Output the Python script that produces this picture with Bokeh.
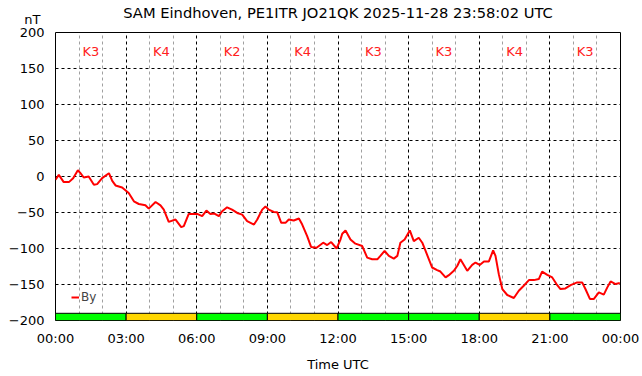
from bokeh.plotting import figure
from bokeh.models import FixedTicker, ColumnDataSource, LinearAxis
from bokeh.core.properties import value
from bokeh.embed import file_html
from bokeh.resources import INLINE

title_text = "SAM Eindhoven, PE1ITR JO21QK 2025-11-28 23:58:02 UTC"
unit_text = "nT"

hours = [0.00, 0.14, 0.35, 0.57, 0.75, 0.95, 1.06, 1.20, 1.41, 1.63, 1.77, 1.98,
         2.27, 2.41, 2.55, 2.83, 3.11, 3.33, 3.54, 3.82, 3.96, 4.25, 4.46, 4.60,
         4.81, 5.10, 5.34, 5.45, 5.66, 6.02, 6.23, 6.41, 6.58, 6.75, 6.94, 7.08,
         7.29, 7.50, 7.72, 7.93, 8.14, 8.43, 8.57, 8.78, 8.92, 9.06, 9.27, 9.42,
         9.59, 9.77, 9.91, 10.12, 10.34, 10.48, 10.69, 10.86, 11.09, 11.37, 11.54,
         11.71, 11.94, 12.10, 12.18, 12.32, 12.53, 12.74, 13.03, 13.24, 13.45,
         13.67, 13.80, 13.98, 14.16, 14.37, 14.52, 14.65, 14.83, 15.05, 15.22,
         15.43, 15.58, 15.72, 16.00, 16.21, 16.35, 16.57, 16.71, 16.92, 17.07,
         17.20, 17.49, 17.70, 17.84, 18.02, 18.20, 18.41, 18.59, 18.69, 18.83,
         18.98, 19.19, 19.47, 19.68, 19.89, 20.11, 20.32, 20.53, 20.67, 20.89,
         21.10, 21.28, 21.45, 21.66, 21.88, 22.16, 22.37, 22.51, 22.70, 22.87,
         23.08, 23.29, 23.44, 23.58, 23.79, 23.97]
by_values = [-4.6, 2.3, -7.8, -7.8, -2.3, 8.7, 4.6, -1.4, 0.0, -11.5, -10.6, -2.3,
             4.6, -6.0, -12.4, -15.2, -23.0, -34.5, -38.2, -40.0, -44.6, -35.4, -40.0, -46.0,
             -63.0, -59.8, -70.3, -69.0, -52.0, -52.0, -55.0, -47.4, -52.0, -51.5, -55.0, -48.3,
             -42.8, -46.0, -50.6, -52.9, -62.0, -66.7, -59.8, -46.0, -41.8, -46.0, -49.2, -49.7,
             -64.4, -64.4, -59.8, -61.1, -58.4, -66.7, -82.8, -98.0, -98.9, -92.0, -95.2,
             -91.0, -100.0, -88.0, -79.6, -74.9, -87.4, -93.3, -96.6, -112.6, -115.0,
             -115.0, -110.3, -103.4, -110.3, -114.0, -110.3, -92.0, -87.4, -74.9, -89.7,
             -85.1, -92.0, -103.4, -126.4, -130.0, -132.0, -140.2, -137.0, -131.0, -124.0,
             -115.0, -131.0, -122.8, -119.5, -122.8, -118.0, -118.0, -102.5, -110.3, -135.6,
             -156.3, -164.6, -168.7, -158.6, -151.7, -143.9, -143.9, -142.5, -132.0, -136.6,
             -140.2, -149.4, -156.3, -155.4, -150.8, -147.1, -147.1, -156.3, -170.0, -170.0,
             -161.0, -164.0, -154.0, -145.8, -149.4, -148.0]

k_start = [0, 3, 6, 9, 12, 15, 18, 21]
k_index = [3, 4, 2, 4, 3, 3, 4, 3]
k_labels = ["K%d" % k for k in k_index]

x_ticks = [0, 3, 6, 9, 12, 15, 18, 21, 24]
x_tick_labels = ["00:00", "03:00", "06:00", "09:00", "12:00", "15:00", "18:00", "21:00", "00:00"]
y_ticks = [-200, -150, -100, -50, 0, 50, 100, 150, 200]

FONT = "DejaVu Sans"

p = figure(width=642, height=376, output_backend="svg", toolbar_location=None,
           x_range=(0, 24), y_range=(-200, 200),
           min_border_left=55, min_border_right=22, min_border_top=30, min_border_bottom=56)
p.background_fill_color = "white"
p.border_fill_color = "white"
p.outline_line_color = "black"
p.outline_line_width = 1
p.outline_line_alpha = 1

bottom_axis = p.below[0]
left_axis = p.left[0]

# ticks / grid (bottom and left axes)
bottom_axis.ticker = FixedTicker(ticks=x_ticks, minor_ticks=[h for h in range(25) if h % 3 != 0])
bottom_axis.major_label_overrides = {t: l for t, l in zip(x_ticks, x_tick_labels)}
left_axis.ticker = FixedTicker(ticks=y_ticks)
# the unit label sits one line above the top tick label, as in the reference
left_axis.major_label_overrides = {y_ticks[-1]: unit_text + "\u00a0\n" + str(y_ticks[-1]) + "\n"}
left_axis.major_label_text_line_height = 0.85

p.xgrid.grid_line_color = "black"
p.xgrid.grid_line_dash = "3 3"
p.xgrid.grid_line_width = 1
p.xgrid.minor_grid_line_color = "#a0a0a0"
p.xgrid.minor_grid_line_dash = "3 3"
p.ygrid.grid_line_color = "black"
p.ygrid.grid_line_dash = "3 3"
p.ygrid.grid_line_width = 1

for ax in (bottom_axis, left_axis):
    ax.axis_line_color = None
    ax.major_tick_out = 0
    ax.major_tick_in = 0
    ax.minor_tick_out = 0
    ax.minor_tick_in = 0
    ax.major_label_text_font = FONT
    ax.major_label_text_font_size = "13px"
    ax.major_label_text_color = "black"
    ax.axis_label_text_font = FONT
    ax.axis_label_text_font_size = "13px"
    ax.axis_label_text_font_style = "normal"
    ax.axis_label_text_color = "black"

bottom_axis.major_label_standoff = 10
bottom_axis.axis_label = "Time UTC"
bottom_axis.axis_label_standoff = 8
left_axis.major_label_standoff = 11

# title: carried by a tick-less axis above the frame (centred on the frame)
title_axis = LinearAxis(ticker=FixedTicker(ticks=[]), axis_label=title_text)
title_axis.axis_line_color = None
title_axis.major_tick_out = 0
title_axis.major_tick_in = 0
title_axis.minor_tick_out = 0
title_axis.minor_tick_in = 0
title_axis.major_label_standoff = 0
title_axis.axis_label_standoff = 12
title_axis.axis_label_text_font = FONT
title_axis.axis_label_text_font_size = "14.7px"
title_axis.axis_label_text_font_style = "normal"
title_axis.axis_label_text_color = "black"
p.add_layout(title_axis, "above")

# K-index bars
k_colors = ["#ffd700" if k >= 4 else "#00ff00" for k in k_index]
k_src = ColumnDataSource(dict(left=k_start, right=[s + 3 for s in k_start],
                              color=k_colors, xc=[s + 1.5 for s in k_start],
                              label=k_labels, ly=[173] * len(k_start)))
p.quad(left="left", right="right", bottom=-200, top=-190, fill_color="color",
       line_color="black", line_width=1, source=k_src)
p.text(x="xc", y="ly", text="label", source=k_src, text_align="center",
       text_baseline="middle", text_color="#ff2020", text_font=value(FONT),
       text_font_size="13px")

# data line
p.line(hours, by_values, line_color="#ff0000", line_width=2, legend_label="By")

p.legend.location = (16, 16)
p.legend.background_fill_alpha = 0
p.legend.border_line_color = None
p.legend.padding = 0
p.legend.margin = 0
p.legend.spacing = 0
p.legend.glyph_width = 8
p.legend.glyph_height = 12
p.legend.label_standoff = 2
p.legend.label_text_font = FONT
p.legend.label_text_font_size = "12px"
p.legend.label_height = 12

open("out.html", "w").write(file_html(p, INLINE))
